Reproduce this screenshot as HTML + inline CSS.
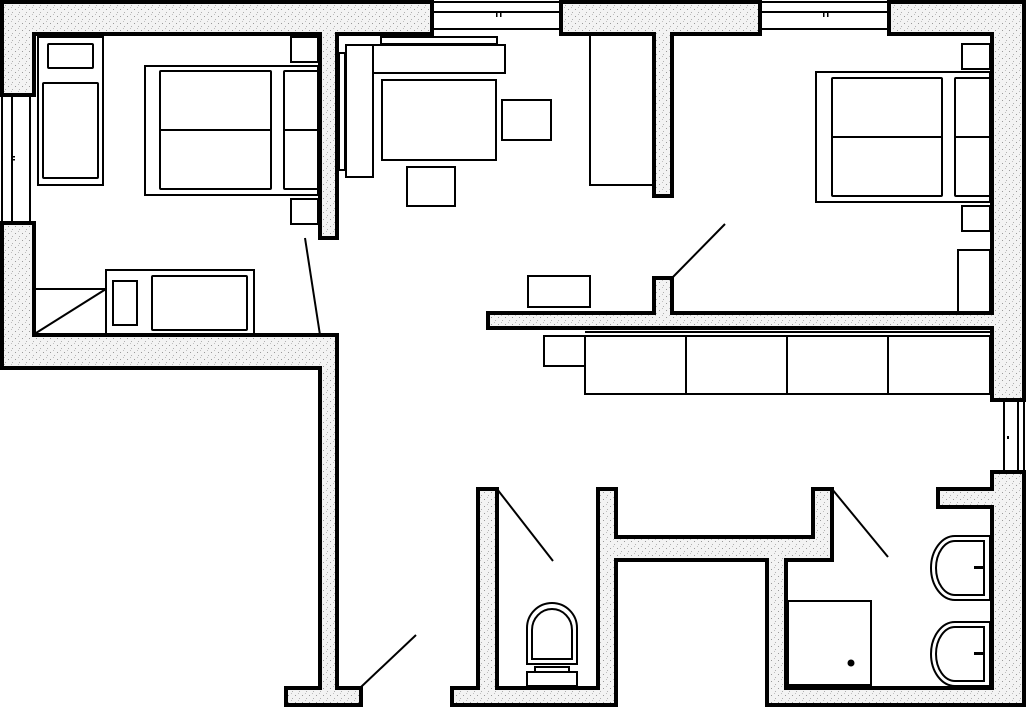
<!DOCTYPE html>
<html><head><meta charset="utf-8"><style>
html,body{margin:0;padding:0;background:#fff;}
svg{display:block;}
</style></head><body>
<svg width="1026" height="707" viewBox="0 0 1026 707" xmlns="http://www.w3.org/2000/svg">
<defs>
<pattern id="st" width="7" height="7" patternUnits="userSpaceOnUse">
<rect width="7" height="7" fill="#f3f3f3"/>
<rect x="1" y="2" width="1" height="1" fill="#9a9a9a"/>
<rect x="5" y="5" width="1" height="1" fill="#b0b0b0"/>
<rect x="4" y="0" width="1" height="1" fill="#c0c0c0"/>
</pattern>
</defs>
<g fill="url(#st)" stroke="#000" stroke-width="4" stroke-linejoin="miter">
<polygon points="2,2 432,2 432,34 337,34 337,238 320,238 320,34 34,34 34,95 2,95"/>
<polygon points="2,223 34,223 34,335 337,335 337,688 361,688 361,705 286,705 286,688 320,688 320,368 2,368"/>
<polygon points="561,2 760,2 760,34 672,34 672,196 654,196 654,34 561,34"/>
<polygon points="889,2 1024,2 1024,400 992,400 992,328 488,328 488,313 654,313 654,278 672,278 672,313 992,313 992,34 889,34"/>
<polygon points="992,472 1024,472 1024,705 767,705 767,560 616,560 616,705 452,705 452,688 478,688 478,489 497,489 497,688 598,688 598,489 616,489 616,537 813,537 813,489 832,489 832,560 786,560 786,688 992,688 992,507 938,507 938,489 992,489"/>
</g>
<g fill="none" stroke="#000" stroke-width="2">
<!-- windows -->
<line x1="432" y1="12" x2="561" y2="12"/><line x1="432" y1="29" x2="561" y2="29"/>
<line x1="760" y1="12" x2="889" y2="12"/><line x1="760" y1="29" x2="889" y2="29"/>
<line x1="12" y1="95" x2="12" y2="223"/><line x1="30" y1="95" x2="30" y2="223"/>
<line x1="1004" y1="400" x2="1004" y2="472"/><line x1="1018" y1="400" x2="1018" y2="472"/>
<line x1="2" y1="95" x2="2" y2="223"/><line x1="1024" y1="400" x2="1024" y2="472"/>
<line x1="432" y1="2" x2="561" y2="2"/><line x1="760" y1="2" x2="889" y2="2"/>
</g>
<g fill="#000">
<rect x="496" y="13" width="1.5" height="4"/><rect x="500" y="13" width="1.5" height="4"/>
<rect x="823" y="13" width="1.5" height="4"/><rect x="827" y="13" width="1.5" height="4"/>
<rect x="11" y="156" width="4" height="1.5"/><rect x="11" y="159" width="4" height="1.5"/>
<rect x="1007" y="436" width="2" height="3"/>
</g>
<g fill="none" stroke="#000" stroke-width="2">
<!-- bedroom 1 -->
<rect x="38" y="37" width="65" height="148"/>
<rect x="48" y="44" width="45" height="24" rx="1"/>
<rect x="43" y="83" width="55" height="95" rx="1"/>
<rect x="145" y="66" width="173" height="129"/>
<rect x="160" y="71" width="111" height="118" rx="1"/>
<line x1="160" y1="130" x2="271" y2="130"/>
<rect x="284" y="71" width="34" height="118" rx="1"/>
<line x1="284" y1="130" x2="318" y2="130"/>
<rect x="291" y="37" width="27" height="25"/>
<rect x="291" y="199" width="27" height="25"/>
<line x1="305" y1="238" x2="320" y2="335"/>
<line x1="34" y1="289" x2="106" y2="289"/>
<line x1="36" y1="333" x2="106" y2="289"/>
<rect x="106" y="270" width="148" height="65"/>
<rect x="113" y="281" width="24" height="44"/>
<rect x="152" y="276" width="95" height="54" rx="1"/>
<!-- living -->
<rect x="339" y="53" width="6" height="117"/>
<rect x="346" y="45" width="27" height="132"/>
<rect x="381" y="37" width="116" height="7"/>
<rect x="373" y="45" width="132" height="28"/>
<rect x="382" y="80" width="114" height="80"/>
<rect x="502" y="100" width="49" height="40"/>
<rect x="407" y="167" width="48" height="39"/>
<rect x="590" y="34" width="64" height="151"/>
<rect x="528" y="276" width="62" height="31"/>
<line x1="672" y1="278" x2="725" y2="224"/>
<!-- bedroom 2 -->
<rect x="816" y="72" width="174" height="130"/>
<rect x="832" y="78" width="110" height="118" rx="1"/>
<line x1="832" y1="137" x2="942" y2="137"/>
<rect x="955" y="78" width="35" height="118" rx="1"/>
<line x1="955" y1="137" x2="990" y2="137"/>
<rect x="962" y="44" width="28" height="25"/>
<rect x="962" y="206" width="28" height="25"/>
<rect x="958" y="250" width="32" height="63"/>
<!-- cabinets -->
<line x1="585" y1="332" x2="990" y2="332"/>
<rect x="544" y="336" width="41" height="30"/>
<rect x="585" y="336" width="405" height="58"/>
<line x1="686" y1="336" x2="686" y2="394"/>
<line x1="787" y1="336" x2="787" y2="394"/>
<line x1="888" y1="336" x2="888" y2="394"/>
<!-- doors -->
<line x1="361" y1="687" x2="416" y2="635"/>
<line x1="497" y1="489" x2="553" y2="561"/>
<line x1="832" y1="489" x2="888" y2="557"/>
<!-- toilet -->
<rect x="527" y="672" width="50" height="14"/>
<rect x="535" y="667" width="34" height="5"/>
<path d="M527,664 L527,628 A25,25 0 0 1 577,628 L577,664 Z"/>
<path d="M532,659 L532,630 A20,21 0 0 1 572,630 L572,659 Z"/>
<!-- shower -->
<rect x="788" y="601" width="83" height="84"/>
<!-- sinks -->
<path d="M990,536 L955,536 A24,32 0 0 0 955,600 L990,600 Z"/>
<path d="M984,541 L955,541 A19,27 0 0 0 955,595 L984,595 Z"/>
<path d="M990,622 L955,622 A24,32 0 0 0 955,686 L990,686 Z"/>
<path d="M984,627 L955,627 A19,27 0 0 0 955,681 L984,681 Z"/>
</g>
<g fill="#000">
<circle cx="851" cy="663" r="3.5"/>
<rect x="974" y="566" width="10" height="3"/>
<rect x="974" y="652" width="10" height="3"/>
</g>
</svg>
</body></html>
